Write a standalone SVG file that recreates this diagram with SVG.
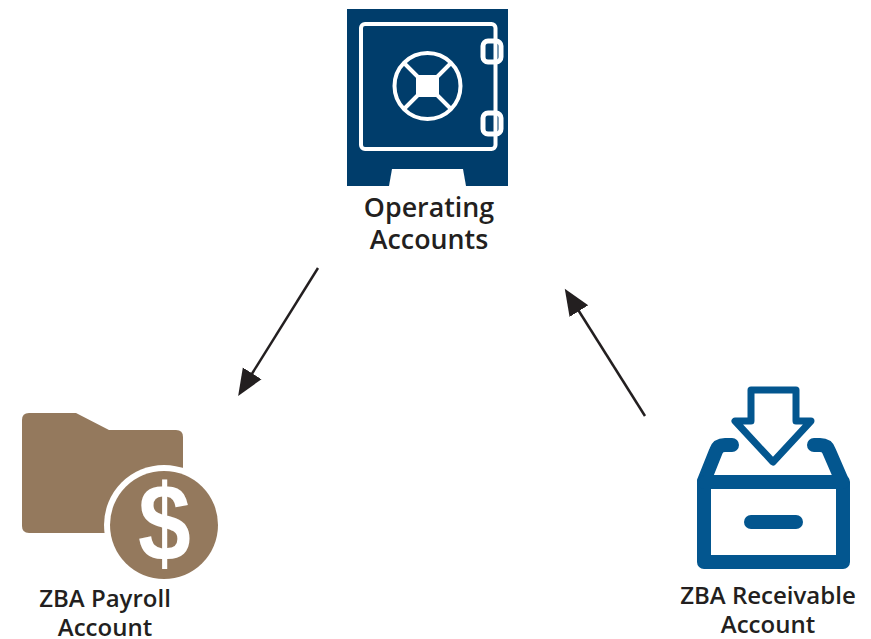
<svg xmlns="http://www.w3.org/2000/svg" width="871" height="639" viewBox="0 0 871 639">
<style>
.l{font-family:"Open Sans",sans-serif;font-weight:600;fill:#231f20;text-anchor:middle}
.big{font-size:26.8px}
.sm{font-size:24px}
.w{fill:none;stroke:#fff;stroke-width:4}
.h{fill:#003d6b;stroke:#fff;stroke-width:5}
.c{stroke:#231f20;stroke-width:2.5;fill:none}
.b{fill:none;stroke:#03568f;stroke-linejoin:round;stroke-linecap:round}
</style>
<defs><marker id="a" markerUnits="userSpaceOnUse" markerWidth="27" markerHeight="24" refX="6" refY="12" orient="auto" viewBox="0 0 27 24"><path d="M0 1 L26.500 12 L0 23Z" fill="#231f20"/></marker></defs>
<rect width="871" height="639" fill="#fff"/>
<g id="connectors">
<path class="c" d="M318 268 L249 378.500" marker-end="url(#a)"/>
<path class="c" d="M645 416 L575.700 306" marker-end="url(#a)"/>
</g>
<g id="operating">
<rect x="347" y="9" width="161" height="177" fill="#003d6b"/>
<path d="M392 169H463L466 186H389Z" fill="#fff"/>
<rect class="h" x="483" y="41" width="18" height="21" rx="5"/>
<rect class="h" x="483" y="113" width="18" height="21" rx="5"/>
<rect class="w" x="361" y="24" width="134.500" height="125" rx="4"/>
<circle class="w" cx="427.500" cy="86" r="33"/>
<rect x="416" y="75" width="23" height="22" fill="#fff"/>
<path class="w" d="M405 64L418 77M450 64L437 77M405 108L418 95M450 108L437 95"/>
<text class="l big"><tspan x="429" y="217">Operating</tspan><tspan x="429" y="249">Accounts</tspan></text>
</g>
<g id="payroll">
<path d="M29 413H76L109 430H176Q183 430 183 437V500H110V533H29Q22 533 22 526V420Q22 413 29 413Z" fill="#94795d"/>
<circle cx="164" cy="525" r="60" fill="#fff"/>
<circle cx="164" cy="525" r="54" fill="#94795d"/>
<text transform="translate(164.500 561) scale(1 1.15)" font-family="Liberation Sans,sans-serif" font-weight="700" font-size="95" fill="#fff" text-anchor="middle">$</text>
<text class="l sm"><tspan x="105" y="607">ZBA Payroll</tspan><tspan x="105" y="636">Account</tspan></text>
</g>
<g id="receivable">
<path d="M751 390H796V421H811L773 462L735 421H751Z" fill="#fff" stroke="#03568f" stroke-width="7" stroke-linejoin="round"/>
<path d="M704 481L716 451Q718 445 725 445H732M842 481L829 451Q827 445 820 445H814" class="b" stroke-width="14"/>
<rect x="704" y="482" width="139" height="80" class="b" stroke-width="14"/>
<path d="M704 482.500H843" class="b" stroke-width="13"/>
<path d="M751 522H796" class="b" stroke-width="14"/>
<text class="l sm"><tspan x="768" y="604">ZBA Receivable</tspan><tspan x="768" y="633">Account</tspan></text>
</g>
</svg>
